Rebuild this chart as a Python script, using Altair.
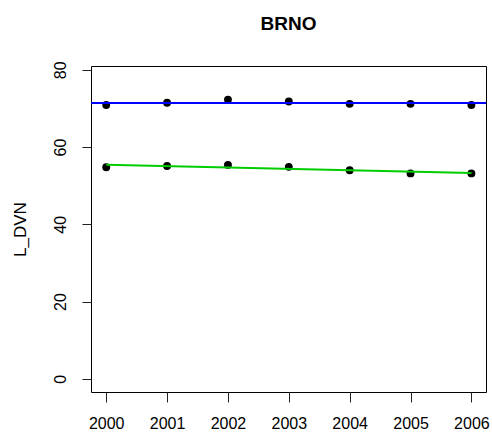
import altair as alt
import pandas as pd

# Yearly L_DVN values for Brno
years = [2000, 2001, 2002, 2003, 2004, 2005, 2006]
upper_series = [70.9, 71.5, 72.3, 71.8, 71.2, 71.2, 70.9]
lower_series = [54.8, 55.1, 55.4, 54.9, 54.0, 53.2, 53.2]

y_ticks = [0, 20, 40, 60, 80]

points = pd.DataFrame({
    "year": years * 2,
    "value": upper_series + lower_series,
    "series": ["upper"] * len(years) + ["lower"] * len(years),
})
upper_df = pd.DataFrame({"year": years, "value": upper_series})
lower_df = pd.DataFrame({"year": years, "value": lower_series})

FONT = "Liberation Sans"

x_scale = alt.Scale(domain=[1999.75, 2006.24], nice=False, zero=False)
y_scale = alt.Scale(domain=[-3.4, 81.0], nice=False, zero=False)

x_axis = alt.Axis(
    values=years, format="d", title=None, grid=False, domain=False,
    tickSize=10, tickColor="#222222", labelPadding=13, labelFontSize=16,
    labelFont=FONT, labelColor="black", labelBaseline="top",
)
y_axis = alt.Axis(
    values=y_ticks, format="d", title="L_DVN", grid=False, domain=False,
    tickSize=9, tickColor="#222222", labelPadding=17, labelFontSize=16,
    labelFont=FONT, labelColor="black", labelAngle=270, labelAlign="center",
    labelBaseline="alphabetic",
    titleFont=FONT, titleFontSize=17, titleFontWeight="normal", titleColor="black",
    titleAngle=270, titleX=-66, titleY=163, titleAlign="center",
    titleBaseline="alphabetic",
)

dots = alt.Chart(points).mark_circle(size=62, color="black", opacity=1).encode(
    x=alt.X("year:Q", scale=x_scale, axis=x_axis),
    y=alt.Y("value:Q", scale=y_scale, axis=y_axis),
)

# Mean level of the upper series, across the whole panel
mean_rule = alt.Chart(upper_df).mark_rule(color="#0000FF", strokeWidth=2).encode(
    y=alt.Y("mean(value):Q", scale=y_scale),
)

# Linear trend of the lower series
trend = alt.Chart(lower_df).transform_regression(
    "year", "value", method="linear"
).mark_line(color="#00CD00", strokeWidth=2).encode(
    x=alt.X("year:Q", scale=x_scale),
    y=alt.Y("value:Q", scale=y_scale),
)

chart = alt.layer(dots, mean_rule, trend).properties(
    width=395,
    height=326,
    autosize=alt.AutoSizeParams(type="none"),
    padding={"left": 91, "top": 66, "right": 6, "bottom": 40},
    title=alt.TitleParams(
        "BRNO", font=FONT, fontSize=19, fontWeight="bold", color="black",
        anchor="middle", offset=27,
    ),
    background="white",
).configure_view(stroke="black", strokeWidth=1)

chart.save("out.html", embed_options={"renderer": "svg", "actions": False})
